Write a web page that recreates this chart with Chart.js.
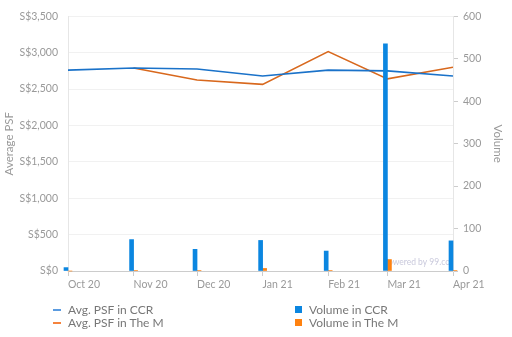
<!DOCTYPE html>
<html>
<head>
<meta charset="utf-8">
<script src="https://cdn.jsdelivr.net/npm/chart.js@4.4.1/dist/chart.umd.min.js"></script>
<style>
  body { margin: 0; background: #fff; }
  #wrap { position: relative; width: 512px; height: 337px; }
  #legend { position: absolute; left: 0; top: 0; width: 512px; height: 337px; pointer-events: none;
            font-family: Lato, sans-serif; font-size: 12px; color: #777; }
  .item { position: absolute; white-space: nowrap; line-height: 14px; }
  .mark { position: absolute; }
</style>
</head>
<body>
<div id="wrap">
  <canvas id="psfChart" width="512" height="337"></canvas>
  <div id="legend"></div>
</div>
<script>
// month starts on the time axis
const months = ['2020-10-01', '2020-11-01', '2020-12-01', '2021-01-01', '2021-02-01', '2021-03-01', '2021-04-01'];
const monthLabels = ['Oct 20', 'Nov 20', 'Dec 20', 'Jan 21', 'Feb 21', 'Mar 21', 'Apr 21'];

// average price per square foot (S$)
const psfCCR = [2760, 2790, 2775, 2680, 2760, 2750, 2680];
const psfTheM = [null, 2790, 2625, 2565, 3015, 2640, 2800];

// transaction volume
const volumeCCR = [8, 74, 51, 72, 47, 535, 71];
const volumeTheM = [0, 1, 1, 6, 1, 27, 1];

const DAY = 24 * 3600 * 1000;
const start = Date.parse(months[0]);
const dayOffsets = months.map(m => Math.round((Date.parse(m) - start) / DAY));

function points(values) {
    return values.map((v, i) => ({ x: dayOffsets[i], y: v }));
}

const labelColor = '#999';
const tickFont = { family: 'Lato', size: 10.5 };
const titleFont = { family: 'Lato', size: 11.5 };

// faint credit text under the bars
const creditPlugin = {
    id: 'credit',
    beforeDatasetsDraw(chart) {
        const ctx = chart.ctx;
        ctx.save();
        ctx.font = '8.5px Lato';
        ctx.fillStyle = '#c9c9dc';
        ctx.textBaseline = 'middle';
        ctx.fillText('Powered by 99.co', 383, 262);
        ctx.restore();
    }
};

const ctx = document.getElementById('psfChart').getContext('2d');
const chart = new Chart(ctx, {
    data: {
        datasets: [
            {
                type: 'line',
                label: 'Avg. PSF in CCR',
                data: points(psfCCR),
                borderColor: '#1a72c9',
                borderWidth: 1.6,
                pointRadius: 0,
                tension: 0,
                yAxisID: 'y',
                order: 1,
                legendColor: '#5b9be0'
            },
            {
                type: 'line',
                label: 'Avg. PSF in The M',
                data: points(psfTheM),
                borderColor: '#d8681d',
                borderWidth: 1.6,
                pointRadius: 0,
                tension: 0,
                yAxisID: 'y',
                order: 1,
                legendColor: '#f5833d'
            },
            {
                type: 'bar',
                label: 'Volume in CCR',
                data: points(volumeCCR),
                backgroundColor: '#0b86e0',
                barThickness: 4,
                yAxisID: 'y1',
                clip: false,
                order: 0,
                legendColor: '#0b86e0'
            },
            {
                type: 'bar',
                label: 'Volume in The M',
                data: points(volumeTheM),
                backgroundColor: '#ff8210',
                barThickness: 4,
                yAxisID: 'y1',
                clip: false,
                order: 0,
                legendColor: '#ff8210'
            }
        ]
    },
    options: {
        responsive: false,
        animation: false,
        devicePixelRatio: 1,
        layout: { padding: { top: 15 } },
        plugins: {
            legend: { display: false },
            tooltip: { enabled: false }
        },
        scales: {
            x: {
                type: 'linear',
                offset: false,
                min: 0,
                max: dayOffsets[dayOffsets.length - 1],
                afterBuildTicks: scale => {
                    scale.ticks = dayOffsets.map(v => ({ value: v }));
                },
                afterFit: scale => { scale.height = 66; },
                ticks: {
                    autoSkip: false,
                    maxRotation: 0,
                    align: 'start',
                    padding: 2,
                    color: labelColor,
                    font: tickFont,
                    callback: (v, i) => monthLabels[i]
                },
                grid: { drawOnChartArea: false, offset: false, tickLength: 5, color: '#ccc' },
                border: { color: '#ccc' }
            },
            y: {
                position: 'left',
                min: 0,
                max: 3500,
                afterFit: scale => { scale.width = 68; },
                ticks: {
                    stepSize: 500,
                    padding: 10,
                    color: labelColor,
                    font: tickFont,
                    callback: v => 'S$' + v.toLocaleString('en-US')
                },
                grid: { color: '#f1f1f1', drawTicks: false },
                border: { color: '#e6e6e6' },
                title: {
                    display: true,
                    text: 'Average PSF',
                    color: labelColor,
                    font: titleFont,
                    padding: { top: 2, bottom: 0 }
                }
            },
            y1: {
                position: 'right',
                min: 0,
                max: 600,
                afterFit: scale => { scale.width = 59; },
                ticks: {
                    stepSize: 100,
                    padding: 5,
                    color: labelColor,
                    font: tickFont
                },
                grid: { drawOnChartArea: false, tickLength: 5, color: '#ccc' },
                border: { color: '#e6e6e6' },
                title: {
                    display: true,
                    text: 'Volume',
                    color: labelColor,
                    font: titleFont,
                    padding: { top: 7, bottom: 0 }
                }
            }
        }
    },
    plugins: [creditPlugin]
});

// two-column legend under the plot
const legend = document.getElementById('legend');
const slots = [
    { x: 53, y: 310, line: true },
    { x: 53, y: 323, line: true },
    { x: 295, y: 310, line: false },
    { x: 295, y: 323, line: false }
];
chart.data.datasets.forEach((ds, i) => {
    const s = slots[i];
    const mark = document.createElement('div');
    mark.className = 'mark';
    if (s.line) {
        Object.assign(mark.style, { left: s.x + 'px', top: (s.y - 1) + 'px', width: '8px', height: '2px', background: ds.legendColor });
    } else {
        Object.assign(mark.style, { left: s.x + 'px', top: (s.y - 4) + 'px', width: '7px', height: '7px', background: ds.legendColor });
    }
    legend.appendChild(mark);
    const text = document.createElement('div');
    text.className = 'item';
    text.textContent = ds.label;
    Object.assign(text.style, { left: (s.x + (s.line ? 15 : 14)) + 'px', top: (s.y - 7) + 'px' });
    legend.appendChild(text);
});
</script>
</body>
</html>
